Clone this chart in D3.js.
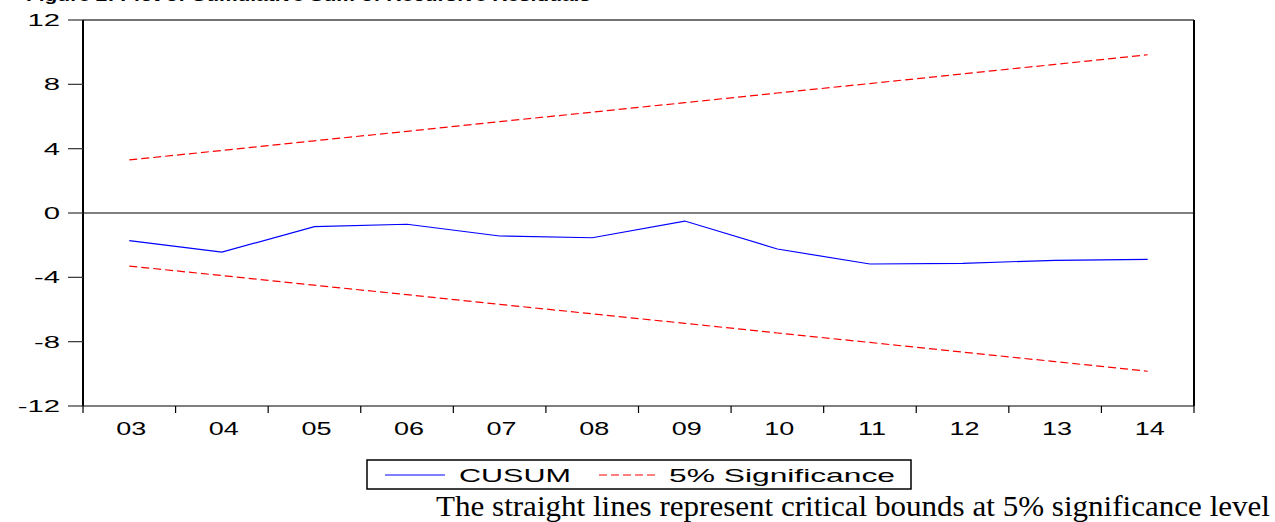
<!DOCTYPE html>
<html><head><meta charset="utf-8">
<script src="https://cdn.jsdelivr.net/npm/d3@7"></script>
<style>body{margin:0;background:#fff;}svg{display:block;}</style>
</head><body>
<svg id="c" width="1275" height="522"></svg>
<script>
const years = ["03","04","05","06","07","08","09","10","11","12","13","14"];
const cusum = [-1.72,-2.43,-0.85,-0.70,-1.43,-1.54,-0.50,-2.24,-3.17,-3.13,-2.94,-2.88];
const upper = [3.30,3.89,4.49,5.08,5.68,6.27,6.86,7.46,8.05,8.65,9.24,9.84];
const lower = [-3.30,-3.89,-4.49,-5.08,-5.68,-6.27,-6.86,-7.46,-8.05,-8.65,-9.24,-9.84];
const yTicks = [12,8,4,0,-4,-8,-12];
const legendLabels = ["CUSUM","5% Significance"];
const titleText = "Figure 2: Plot of Cumulative Sum of Recursive Residuals";
const noteText = "The straight lines represent critical bounds at 5% significance level";

const svg = d3.select("#c");
const L = 83, R = 1194, T = 20, B = 406;
const x = d3.scaleBand().domain(years).range([L, R]).padding(0);
const y = d3.scaleLinear().domain([-12, 12]).range([B, T]);
const cx = d => x(d) + x.bandwidth() / 2;
const SANS = "Liberation Sans, Arial, sans-serif";

function stretchText(sel, sx) {
  sel.each(function(){
    const w = this.getComputedTextLength();
    d3.select(this).attr("textLength", w * sx).attr("lengthAdjust", "spacingAndGlyphs");
  });
}

// title (cut off at top edge, as in the reference)
svg.append("text").attr("x", 26).attr("y", 1)
  .attr("font-family", SANS).attr("font-size", 17).attr("font-weight", "bold")
  .attr("fill", "#000").text(titleText)
  .attr("textLength", 565).attr("lengthAdjust", "spacingAndGlyphs");

// zero line
svg.append("line").attr("x1", L).attr("x2", R).attr("y1", y(0)).attr("y2", y(0))
  .attr("stroke", "#808080").attr("stroke-width", 2);

// bounds and CUSUM
const line = d3.line().x((d, i) => cx(years[i])).y(d => y(d));
[upper, lower].forEach(s => {
  svg.append("path").datum(s).attr("d", line).attr("fill", "none")
    .attr("stroke", "#ff0000").attr("stroke-width", 1.2).attr("stroke-dasharray", "8,4");
});
svg.append("path").datum(cusum).attr("d", line).attr("fill", "none")
  .attr("stroke", "#0000ff").attr("stroke-width", 1.2);

// frame
svg.append("line").attr("x1", L).attr("x2", R).attr("y1", T).attr("y2", T).attr("stroke", "#444").attr("stroke-width", 1.5);
svg.append("line").attr("x1", L).attr("x2", R).attr("y1", B).attr("y2", B).attr("stroke", "#555").attr("stroke-width", 1.5);
svg.append("line").attr("x1", L).attr("x2", L).attr("y1", T).attr("y2", B).attr("stroke", "#000").attr("stroke-width", 2);
svg.append("line").attr("x1", R).attr("x2", R).attr("y1", T).attr("y2", B).attr("stroke", "#000").attr("stroke-width", 2);

// y axis ticks & labels
const yg = svg.append("g");
yg.selectAll("line").data(yTicks).join("line")
  .attr("x1", 68).attr("x2", L).attr("y1", d => y(d)).attr("y2", d => y(d))
  .attr("stroke", "#333").attr("stroke-width", 1.2);
yg.selectAll("text").data(yTicks).join("text")
  .attr("x", 60).attr("y", d => y(d) + 6).attr("text-anchor", "end")
  .attr("font-family", SANS).attr("font-size", 17).attr("fill", "#000")
  .text(d => d).call(stretchText, 1.72);

// x axis ticks & labels
const bounds = years.map(d => x(d)).concat([R]);
svg.append("g").selectAll("line").data(bounds).join("line")
  .attr("x1", d => d).attr("x2", d => d).attr("y1", B).attr("y2", B + 7)
  .attr("stroke", "#000").attr("stroke-width", 1.2);
svg.append("g").selectAll("text").data(years).join("text")
  .attr("x", d => cx(d) + 2).attr("y", 435).attr("text-anchor", "middle")
  .attr("font-family", SANS).attr("font-size", 19).attr("fill", "#000")
  .text(d => d).call(stretchText, 1.42);

// legend
const lg = svg.append("g");
lg.append("rect").attr("x", 367).attr("y", 460).attr("width", 544).attr("height", 29)
  .attr("fill", "#fff").attr("stroke", "#000").attr("stroke-width", 1.5);
lg.append("line").attr("x1", 385).attr("x2", 445).attr("y1", 475).attr("y2", 475)
  .attr("stroke", "#0000ff").attr("stroke-width", 1.2);
lg.append("text").attr("x", 459).attr("y", 482).attr("font-family", SANS).attr("font-size", 19)
  .text(legendLabels[0]).attr("textLength", 112).attr("lengthAdjust", "spacingAndGlyphs");
lg.append("line").attr("x1", 599).attr("x2", 657).attr("y1", 475).attr("y2", 475)
  .attr("stroke", "#ff0000").attr("stroke-width", 1.2).attr("stroke-dasharray", "8,4");
lg.append("text").attr("x", 669).attr("y", 482).attr("font-family", SANS).attr("font-size", 19)
  .text(legendLabels[1]).attr("textLength", 226).attr("lengthAdjust", "spacingAndGlyphs");

// note
svg.append("text").attr("x", 436).attr("y", 516)
  .attr("font-family", "Liberation Serif, Times New Roman, serif").attr("font-size", 29)
  .attr("fill", "#000").text(noteText)
  .attr("textLength", 834).attr("lengthAdjust", "spacingAndGlyphs");
</script>
</body></html>
